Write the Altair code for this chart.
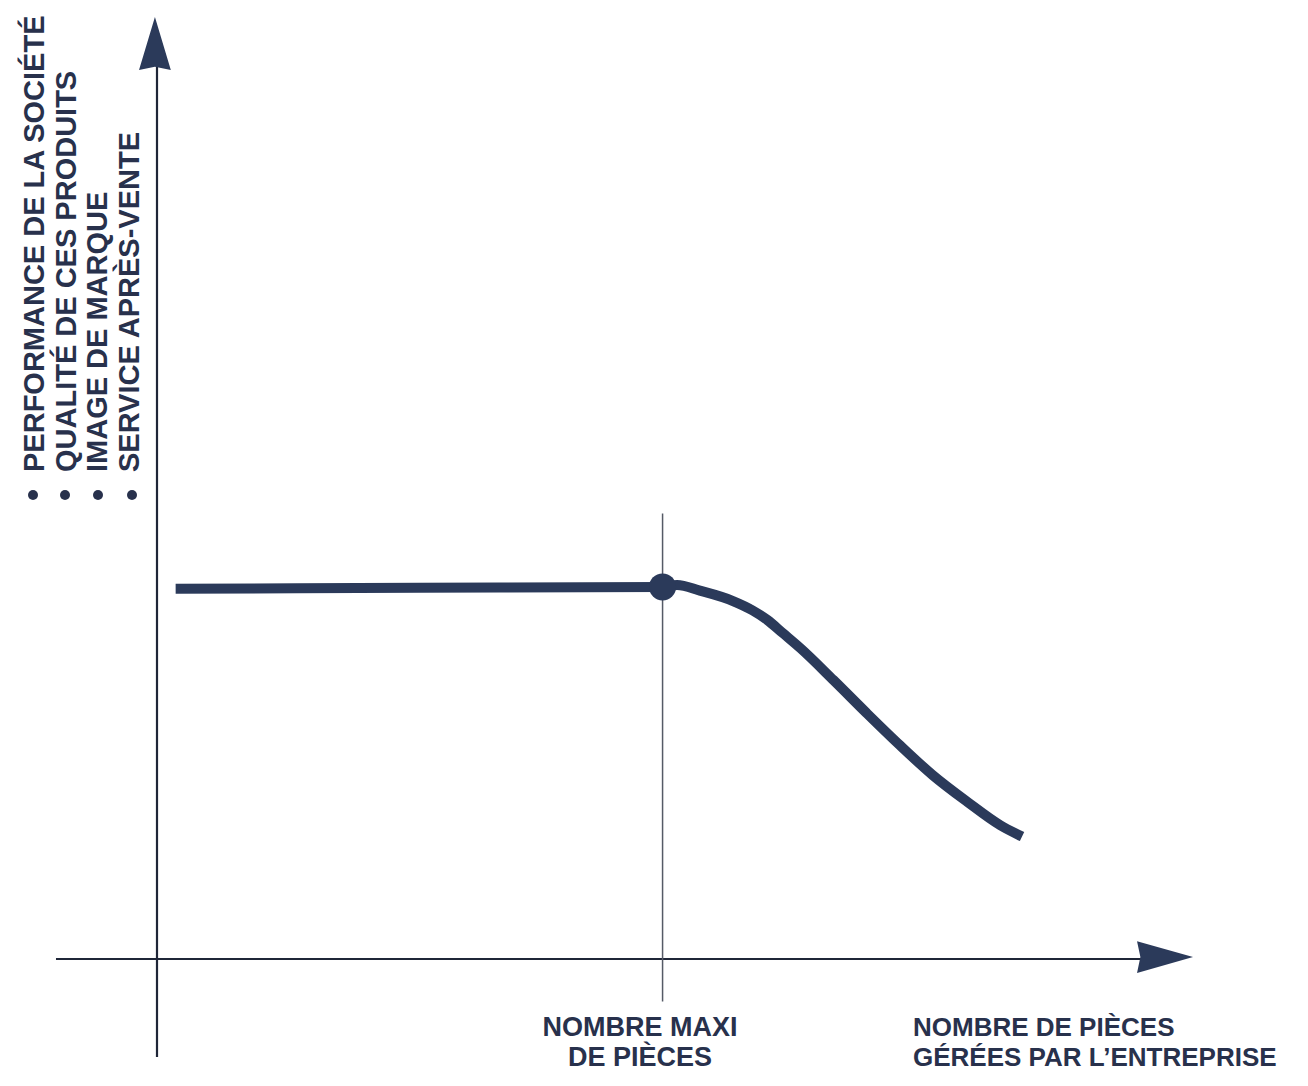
import altair as alt
import pandas as pd

# ---- data ----
y_labels = ["PERFORMANCE DE LA SOCIÉTÉ", "QUALITÉ DE CES PRODUITS",
            "IMAGE DE MARQUE", "SERVICE APRÈS-VENTE"]
knee_label = ["NOMBRE MAXI", "DE PIÈCES"]
x_label = ["NOMBRE DE PIÈCES", "GÉRÉES PAR L’ENTREPRISE"]

curve_x = [1.8, 25.4, 48.8, 50.2, 52.4, 55.6, 57.5, 58.9, 60.4, 62.1, 65.3, 68.5,
           71.7, 74.9, 78.2, 81.4, 83.5]
curve_y = [39.3, 39.4, 39.5, 39.7, 39.1, 38.0, 37.0, 36.0, 34.6, 33.0, 29.6, 26.1,
           22.7, 19.5, 16.7, 14.2, 13.0]
knee_x = [48.8]
knee_y = [39.5]

NAVY = "#2b3a5a"
INK = "#1f2638"
TXT = "#28314c"
FONT = "Liberation Sans"

XS = alt.Scale(domain=[0, 100], nice=False, zero=False)
YS = alt.Scale(domain=[0, 100], nice=False, zero=False)


def X(f):
    return alt.X(f, type="quantitative", scale=XS, axis=None)


def Y(f):
    return alt.Y(f, type="quantitative", scale=YS, axis=None)


layers = []

# axis lines
axes_df = pd.DataFrame({"x": [0, -9.75], "y": [-10.4, 0], "x2": [0, 95.0], "y2": [95.5, 0]})
layers.append(
    alt.Chart(axes_df).mark_rule(color=INK, strokeWidth=2.2).encode(
        x=X("x"), y=Y("y"), x2="x2:Q", y2="y2:Q")
)

# thin marker line at the knee
knee_df = pd.DataFrame({"x": knee_x, "y": [-4.5], "y2": [47.3]})
layers.append(
    alt.Chart(knee_df).mark_rule(color="#555a66", strokeWidth=1.5).encode(
        x=X("x"), y=Y("y"), y2="y2:Q")
)

# curve
curve_df = pd.DataFrame({"x": curve_x, "y": curve_y})
layers.append(
    alt.Chart(curve_df).mark_line(color=NAVY, strokeWidth=10, interpolate="monotone",
                                  strokeCap="butt").encode(x=X("x"), y=Y("y"))
)

# knee dot
dot_df = pd.DataFrame({"x": knee_x, "y": knee_y})
layers.append(
    alt.Chart(dot_df).mark_point(shape="circle", filled=True, size=729, color=NAVY,
                                 opacity=1).encode(x=X("x"), y=Y("y"))
)

# arrowheads
up_df = pd.DataFrame({"x": [-0.2], "y": [97.2]})
layers.append(
    alt.Chart(up_df).mark_point(shape="M0,-1L0.6,1L0,0.88L-0.6,1Z", filled=True, size=2809,
                                color=NAVY, opacity=1, strokeWidth=0).encode(x=X("x"), y=Y("y"))
)
right_df = pd.DataFrame({"x": [97.3], "y": [0.2]})
layers.append(
    alt.Chart(right_df).mark_point(shape="M1,0L-1,0.57L-0.88,0L-1,-0.57Z", filled=True, size=3136,
                                   color=NAVY, opacity=1, strokeWidth=0).encode(x=X("x"), y=Y("y"))
)

# vertical y labels with bullets
col_base = [-113, -81, -50, -18]
bullet_x = [-124, -92, -59, -25]
for lab, cx, bx in zip(y_labels, col_base, bullet_x):
    layers.append(
        alt.Chart(pd.DataFrame({"t": [lab]})).mark_text(
            angle=270, align="left", baseline="alphabetic", font=FONT, fontSize=29,
            fontWeight="bold", color=TXT).encode(text="t:N", x=alt.value(cx), y=alt.value(455))
    )
    layers.append(
        alt.Chart(pd.DataFrame({"t": [lab]})).mark_point(
            shape="circle", filled=True, size=100, color=TXT, opacity=1).encode(
            x=alt.value(bx), y=alt.value(478))
    )

# bottom labels
for lab, y in zip(knee_label, [1019, 1049]):
    layers.append(
        alt.Chart(pd.DataFrame({"t": [lab]})).mark_text(
            align="center", baseline="alphabetic", font=FONT, fontSize=27,
            fontWeight="bold", color=TXT).encode(text="t:N", x=alt.value(483), y=alt.value(y))
    )
for lab, y in zip(x_label, [1019, 1049]):
    layers.append(
        alt.Chart(pd.DataFrame({"t": [lab]})).mark_text(
            align="left", baseline="alphabetic", font=FONT, fontSize=26,
            fontWeight="bold", color=TXT).encode(text="t:N", x=alt.value(756), y=alt.value(y))
    )

chart = alt.layer(*layers).properties(
    width=1036, height=942,
    padding={"left": 149, "top": 9, "right": 107, "bottom": 113},
    autosize=alt.AutoSizeParams(type="none"),
    background="white",
).configure_view(stroke=None)

chart.save("out.html", embed_options={"renderer": "svg", "actions": False})
